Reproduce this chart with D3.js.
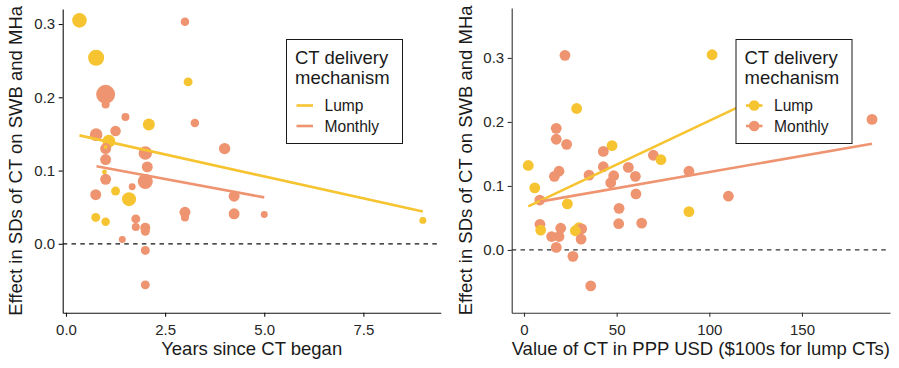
<!DOCTYPE html>
<html>
  <head>
    <title>CT effects</title>
    <script src="https://d3js.org/d3.v7.min.js"></script>
    <style>
    body { margin: 0; background-color: #ffffff; }
    svg text { font-family: "Liberation Sans", Arial, sans-serif; fill: #1a1a1a; }
    </style>
  </head>
  <body>
<script>
// ---- data: left panel (years since CT began) ----
var leftYears  = [0.34, 3.0, 0.76, 3.08, 1.0, 1.0, 1.5, 2.09, 3.25, 0.76, 1.25, 1.08, 1.0, 2.0, 4.0, 1.0, 2.05,
                  0.97, 1.0, 2.0, 1.67, 1.25, 0.75, 1.59, 4.24, 3.0, 3.0, 4.24, 5.0, 0.75, 1.0, 1.76, 1.76, 2.0,
                  2.0, 1.42, 2.0, 2.0, 9.0, 1.0];
var leftEffect = [0.305, 0.303, 0.254, 0.221, 0.204, 0.19, 0.173, 0.163, 0.165, 0.149, 0.154, 0.14, 0.13, 0.124, 0.13, 0.115, 0.105,
                  0.098, 0.088, 0.085, 0.078, 0.072, 0.067, 0.061, 0.065, 0.043, 0.036, 0.041, 0.04, 0.036, 0.030, 0.034, 0.023, 0.022,
                  0.017, 0.006, -0.009, -0.056, 0.032, 0.132];
var leftType   = ["Lump", "Monthly", "Lump", "Lump", "Monthly", "Monthly", "Monthly", "Lump", "Monthly", "Monthly", "Monthly", "Lump", "Monthly", "Monthly", "Monthly", "Monthly", "Monthly",
                  "Lump", "Monthly", "Monthly", "Monthly", "Lump", "Monthly", "Lump", "Monthly", "Monthly", "Monthly", "Monthly", "Monthly", "Lump", "Lump", "Monthly", "Monthly", "Monthly",
                  "Monthly", "Monthly", "Monthly", "Monthly", "Lump", "Lump"];
var leftWeight = [53, 18, 64, 20, 90, 16, 16, 36, 18, 40, 28, 42, 30, 45, 32, 30, 30,
                  6, 30, 56, 12, 20, 30, 49, 30, 30, 16, 30, 12, 20, 18, 20, 16, 25,
                  20, 12, 20, 20, 12, 4];

// ---- data: right panel (value of CT) ----
var rightValue  = [22.1, 28.4, 17.4, 17.4, 23.0, 47.5, 42.8, 69.8, 73.9, 2.3, 18.9, 16.4, 35.1, 42.8, 56.3, 48.4, 46.8, 60.1,
                   89.0, 5.8, 8.5, 23.4, 60.4, 51.3, 89.0, 8.6, 9.0, 51.1, 63.5, 19.8, 29.7, 31.1, 27.7, 14.9, 18.9, 30.8,
                   17.4, 26.4, 36.0, 101.5, 187.8, 110.3];
var rightEffect = [0.304, 0.221, 0.190, 0.173, 0.165, 0.163, 0.154, 0.148, 0.141, 0.132, 0.123, 0.115, 0.117, 0.130, 0.129, 0.116, 0.105, 0.115,
                   0.123, 0.097, 0.078, 0.072, 0.0875, 0.065, 0.060, 0.040, 0.031, 0.041, 0.042, 0.034, 0.035, 0.033, 0.030, 0.021, 0.021, 0.017,
                   0.004, -0.010, -0.056, 0.305, 0.204, 0.084];
var rightType   = ["Monthly", "Lump", "Monthly", "Monthly", "Monthly", "Lump", "Monthly", "Monthly", "Lump", "Lump", "Monthly", "Monthly", "Monthly", "Monthly", "Monthly", "Monthly", "Monthly", "Monthly",
                   "Monthly", "Lump", "Monthly", "Lump", "Monthly", "Monthly", "Lump", "Monthly", "Lump", "Monthly", "Monthly", "Monthly", "Lump", "Monthly", "Lump", "Monthly", "Monthly", "Monthly",
                   "Monthly", "Monthly", "Monthly", "Lump", "Monthly", "Monthly"];

// fitted trend lines (endpoints)
var leftFitX  = {Lump: [0.34, 9.0],  Monthly: [0.77, 5.0]};
var leftFitY  = {Lump: [0.148, 0.044], Monthly: [0.106, 0.0634]};
var rightFitX = {Lump: [2.3, 125],   Monthly: [8.5, 187.8]};
var rightFitY = {Lump: [0.068, 0.236], Monthly: [0.0755, 0.166]};

var types = ["Lump", "Monthly"];
var leftXTicks  = [0, 2.5, 5, 7.5];
var rightXTicks = [0, 50, 100, 150];
var yTicks = [0, 0.1, 0.2, 0.3];

var color = d3.scaleOrdinal().domain(types).range(["#f6c431", "#ef9470"]);

var w = 899, h = 368;
var svg = d3.select("body").append("svg")
  .attr("width", w)
  .attr("height", h);

function drawPanel(opt) {
  var x = d3.scaleLinear().domain(opt.xDomain).range(opt.xRange);
  var y = d3.scaleLinear().domain(opt.yDomain).range(opt.yRange);
  var g = svg.append("g");

  // zero reference
  g.append("line")
    .attr("x1", opt.xRange[0]).attr("x2", opt.xRange[1])
    .attr("y1", y(0)).attr("y2", y(0))
    .style("stroke", opt.dashColor)
    .style("stroke-width", 1.2)
    .style("stroke-dasharray", "4.5,4.3");

  // points
  var pts = opt.xs.map(function(d, i) {
    return {x: d, y: opt.ys[i], t: opt.ts[i], w: opt.ws ? opt.ws[i] : null};
  });
  var r = d3.scaleSqrt().domain([0, 100]).range([0, 10]);
  g.selectAll("circle.pt")
    .data(pts)
    .enter()
    .append("circle")
    .attr("class", "pt")
    .attr("cx", function(d) { return x(d.x); })
    .attr("cy", function(d) { return y(d.y); })
    .attr("r", function(d) { return d.w == null ? opt.radius : r(d.w); })
    .style("fill", function(d) { return color(d.t); });

  // trend lines
  var line = d3.line()
    .x(function(d) { return x(d[0]); })
    .y(function(d) { return y(d[1]); });
  types.forEach(function(t) {
    g.append("path")
      .attr("d", line(d3.zip(opt.fitX[t], opt.fitY[t])))
      .style("fill", "none")
      .style("stroke", color(t))
      .style("stroke-width", 2.6);
  });

  // axes
  var xAxis = g.append("g")
    .attr("transform", "translate(0," + opt.yRange[0] + ")")
    .call(d3.axisBottom(x).tickValues(opt.xTicks).tickFormat(opt.xFormat)
      .tickSize(4).tickSizeOuter(0).tickPadding(7.5));
  var yAxis = g.append("g")
    .attr("transform", "translate(" + opt.xRange[0] + ",0)")
    .call(d3.axisLeft(y).tickValues(yTicks).tickFormat(d3.format(".1f"))
      .tickSize(4).tickSizeOuter(0).tickPadding(3.5));
  [xAxis, yAxis].forEach(function(a) {
    a.select(".domain").style("stroke", opt.axisColor).style("stroke-width", 1.1);
    a.selectAll(".tick line").style("stroke", opt.axisColor).style("stroke-width", 1.1);
    a.selectAll(".tick text").style("font-size", "15px").style("fill", "#262626");
  });

  // titles
  g.append("text")
    .attr("x", (opt.xRange[0] + opt.xRange[1]) / 2)
    .attr("y", 354.5)
    .attr("text-anchor", "middle")
    .style("font-size", "18.5px")
    .text(opt.xTitle);
  g.append("text")
    .attr("transform", "translate(" + opt.yTitleX + "," + ((opt.yRange[0] + opt.yRange[1]) / 2) + ") rotate(-90)")
    .attr("text-anchor", "middle")
    .style("font-size", "18.5px")
    .text("Effect in SDs of CT on SWB and MHa");

  // legend
  var lg = g.append("g").attr("transform", "translate(" + opt.legendX + ",39.5)");
  lg.append("rect")
    .attr("width", 116).attr("height", 104)
    .style("fill", "#ffffff")
    .style("stroke", "#1a1a1a")
    .style("stroke-width", 1);
  lg.append("text").attr("x", 8.5).attr("y", 24.5).style("font-size", "18.5px").text("CT delivery");
  lg.append("text").attr("x", 8.5).attr("y", 44).style("font-size", "18.5px").text("mechanism");
  types.forEach(function(t, i) {
    var ky = 66 + i * 20.5;
    lg.append("line")
      .attr("x1", 10).attr("x2", 26.5)
      .attr("y1", ky).attr("y2", ky)
      .style("stroke", color(t))
      .style("stroke-width", 2.6);
    if (opt.legendPoints) {
      lg.append("circle").attr("cx", 18.2).attr("cy", ky).attr("r", 5.3).style("fill", color(t));
    }
    lg.append("text")
      .attr("x", 38).attr("y", ky + 5.5)
      .style("font-size", "15.6px")
      .text(t);
  });
}

drawPanel({
  xs: leftYears, ys: leftEffect, ts: leftType, ws: leftWeight,
  xDomain: [-0.083, 9.45], xRange: [62.7, 440.7],
  yDomain: [-0.094, 0.3205], yRange: [312.7, 9],
  fitX: leftFitX, fitY: leftFitY,
  xTicks: leftXTicks, xFormat: d3.format(".1f"),
  xTitle: "Years since CT began", yTitleX: 22,
  legendX: 286.5, legendPoints: false,
  dashColor: "#111111", axisColor: "#111111"
});

drawPanel({
  xs: rightValue, ys: rightEffect, ts: rightType, ws: null, radius: 5.4,
  xDomain: [-6.64, 197.5], xRange: [511.7, 890],
  yDomain: [-0.098, 0.378], yRange: [312.7, 8],
  fitX: rightFitX, fitY: rightFitY,
  xTicks: rightXTicks, xFormat: d3.format("d"),
  xTitle: "Value of CT in PPP USD ($100s for lump CTs)", yTitleX: 472,
  legendX: 736, legendPoints: true,
  dashColor: "#333333", axisColor: "#333333"
});
</script>
  </body>
</html>
